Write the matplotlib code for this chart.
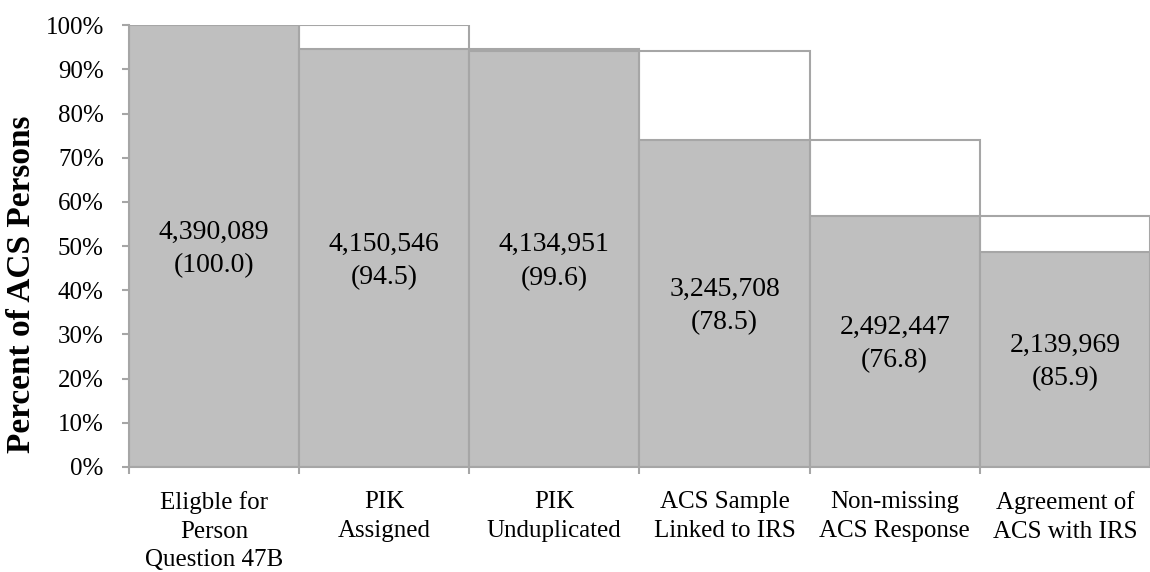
import numpy as np
import matplotlib.pyplot as plt

plt.rcParams['font.family'] = ['Liberation Serif', 'DejaVu Serif']

# sample sizes at each step and percent retained from the previous step
categories = ["Eligble for\nPerson\nQuestion 47B", "PIK\nAssigned", "PIK\nUnduplicated",
              "ACS Sample\nLinked to IRS", "Non-missing\nACS Response", "Agreement of\nACS with IRS"]
counts = [4390089, 4150546, 4134951, 3245708, 2492447, 2139969]
pct_of_prev = [100.0, 94.5, 99.6, 78.5, 76.8, 85.9]

heights = np.array(counts) / counts[0] * 100
prev = np.concatenate([[np.nan], heights[:-1]])
x = np.arange(len(counts))

GRAY = "#bfbfbf"
EDGE = "#a6a6a6"

fig = plt.figure(figsize=(11.5, 5.72), dpi=100)
ax = fig.add_axes([0.112, 0.1836, 0.888, 0.7724])

# outline of previous step's height
ax.bar(x[1:], prev[1:], width=1.0, align="edge", facecolor="white",
       edgecolor=EDGE, linewidth=1.5, zorder=1)
ax.bar(x, heights, width=1.0, align="edge", facecolor=GRAY,
       edgecolor=EDGE, linewidth=1.5, zorder=2)

for i in range(len(counts)):
    ax.text(x[i] + 0.5, heights[i] / 2 - 0.6, f"{counts[i]:,}\n({pct_of_prev[i]:.1f})",
            ha="center", va="center", fontsize=20, linespacing=1.45, zorder=3)

ax.set_xlim(0, len(counts))
ax.set_ylim(0, 100)
ax.set_yticks(np.arange(0, 101, 10))
ax.set_yticklabels([f"{v}%" for v in range(0, 101, 10)])
ax.set_xticks(np.arange(len(counts) + 1)[:-1])
ax.set_xticklabels([])
ax.set_xticks(x + 0.5, minor=True)
ax.set_xticklabels(categories, minor=True, fontsize=18, linespacing=1.38)
ax.tick_params(axis="x", which="minor", length=0, pad=17.5)
ax.tick_params(axis="x", which="major", length=5, color=EDGE, width=1.5)
ax.tick_params(axis="y", length=5, color=EDGE, width=1.5, labelsize=18, pad=13)

for s in ["top", "right"]:
    ax.spines[s].set_visible(False)
for s in ["left", "bottom"]:
    ax.spines[s].set_color(EDGE)
    ax.spines[s].set_linewidth(1.5)
ax.spines["bottom"].set_zorder(4)

ax.set_ylabel("Percent of ACS Persons", fontsize=24, fontweight="bold")
ax.yaxis.set_label_coords(-0.09, 0.414)

fig.savefig("out.png", dpi=100)
